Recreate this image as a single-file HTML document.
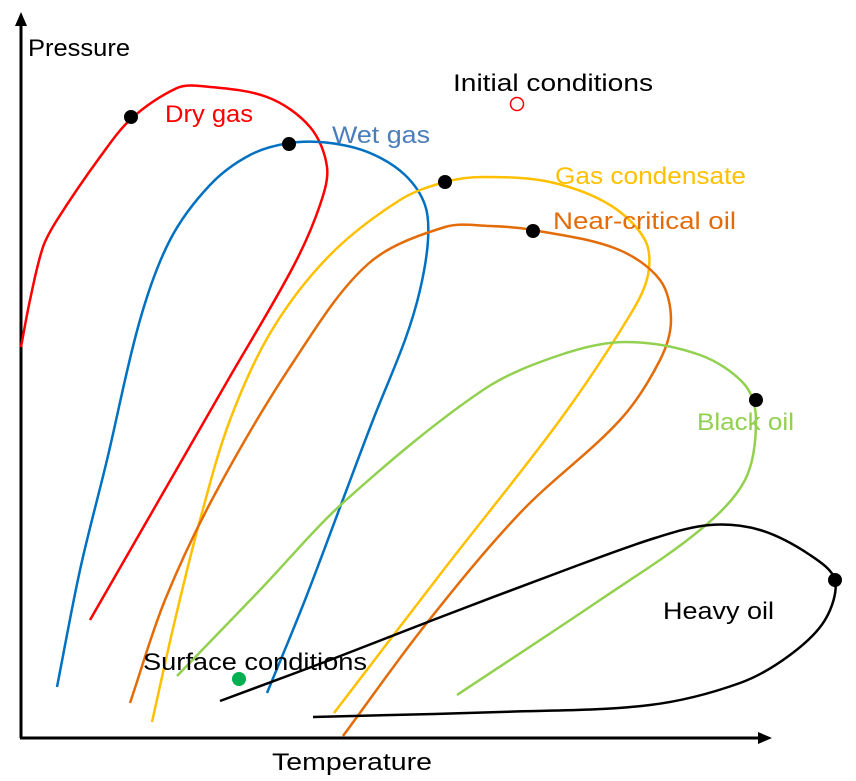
<!DOCTYPE html>
<html><head><meta charset="utf-8"><style>
html,body{margin:0;padding:0;background:#fff;}
svg{display:block;font-family:"Liberation Sans",sans-serif;}
</style></head><body>
<svg id="chart" width="856" height="781" viewBox="0 0 856 781">
  <g id="axes">
    <line x1="21" y1="738" x2="21" y2="22" stroke="#000" stroke-width="3"/>
    <polygon points="21,12 15,26 27,26" fill="#000"/>
    <line x1="20" y1="738" x2="762" y2="738" stroke="#000" stroke-width="3"/>
    <polygon points="772,738 758,732 758,744" fill="#000"/>
    <text x="28" y="56" font-size="24" textLength="102" lengthAdjust="spacingAndGlyphs">Pressure</text>
    <text x="272" y="770" font-size="24" textLength="160" lengthAdjust="spacingAndGlyphs">Temperature</text>
  </g>
  <g id="curves"></g>
  <g id="labels">
    <text x="453" y="91" font-size="24" textLength="200" lengthAdjust="spacingAndGlyphs" fill="#000">Initial conditions</text>
    <circle cx="517" cy="104" r="6.5" fill="none" stroke="#ff0000" stroke-width="1.5"/>
    <text x="165" y="122" font-size="24" textLength="88" lengthAdjust="spacingAndGlyphs" fill="#ff0000">Dry gas</text>
    <text x="332" y="143" font-size="24" textLength="98" lengthAdjust="spacingAndGlyphs" fill="#4a7ebb">Wet gas</text>
    <text x="555" y="184" font-size="24" textLength="191" lengthAdjust="spacingAndGlyphs" fill="#ffc000">Gas condensate</text>
    <text x="553" y="229" font-size="24" textLength="183" lengthAdjust="spacingAndGlyphs" fill="#e36c09">Near-critical oil</text>
    <text x="697" y="430" font-size="24" textLength="97" lengthAdjust="spacingAndGlyphs" fill="#92d050">Black oil</text>
    <text x="663" y="619" font-size="24" textLength="111" lengthAdjust="spacingAndGlyphs" fill="#000">Heavy oil</text>
    <text x="143" y="670" font-size="24" textLength="224" lengthAdjust="spacingAndGlyphs" fill="#000">Surface conditions</text>
    <circle cx="239" cy="679" r="7" fill="#00b050"/>
  </g>
</svg>
<script>
// Envelope shapes (temperature, pressure) in plot units
const dryGas = [[0,391],[9,438],[22,491],[36,518],[79,581],[111,620],[156,650],[179,652],[246,641],[289,611],[306,571],[299,533],[272,471],[207,358],[161,278],[69,118]];
const wetGas = [[36,51],[59,168],[86,278],[119,418],[149,498],[189,553],[229,583],[269,595],[309,595],[349,585],[384,563],[404,533],[407,498],[399,448],[384,398],[352,318],[324,244],[284,138],[246,45]];
const gasCondensate = [[131,16],[154,118],[179,218],[209,318],[251,408],[309,483],[379,538],[424,556],[462,561],[529,556],[589,533],[624,498],[627,463],[609,423],[539,318],[424,170],[313,25]];
const nearCriticalOil = [[109,35],[144,138],[194,244],[271,374],[347,474],[424,511],[469,512],[512,508],[596,489],[639,458],[650,418],[639,378],[599,318],[500,226],[405,114],[322,2]];
const blackOil = [[156,62],[239,148],[324,237],[462,348],[539,383],[604,396],[679,383],[724,353],[735,318],[724,258],[679,208],[579,138],[436,43]];
const heavyOil = [[199,37],[309,78],[412,118],[539,166],[634,200],[689,213],[739,208],[789,183],[814,158],[804,118],[769,83],[719,55],[629,33],[479,26],[292,21]];
const criticalPoints = [[110,621],[268,594],[424,556],[512,507],[735,338],[814,158]];
const seriesColors = ["#ff0000","#0070c0","#ffc000","#e36c09","#92d050","#000000"];
const seriesNames = ["dry-gas","wet-gas","gas-condensate","near-critical-oil","black-oil","heavy-oil"];

const X0 = 21, Y0 = 738;
function xScale(t){ return X0 + t; }
function yScale(p){ return Y0 - p; }

function dist(a,b){ return Math.hypot(a[0]-b[0], a[1]-b[1]) || 1; }
function tangent(P, i){
  const a = P[Math.max(0,i-1)], b = P[Math.min(P.length-1,i+1)];
  const d = dist(P[Math.max(0,i-1)], P[i]) + dist(P[i], P[Math.min(P.length-1,i+1)]);
  return [(b[0]-a[0])/d, (b[1]-a[1])/d];
}
function smoothPath(pts){
  const P = pts.map(d => [xScale(d[0]), yScale(d[1])]);
  let d = "M" + P[0][0] + "," + P[0][1];
  for (let i = 0; i < P.length - 1; i++){
    const p1 = P[i], p2 = P[i+1], L = dist(p1,p2);
    const t1 = tangent(P, i), t2 = tangent(P, i+1);
    const c1 = [p1[0] + t1[0]*L/3, p1[1] + t1[1]*L/3];
    const c2 = [p2[0] - t2[0]*L/3, p2[1] - t2[1]*L/3];
    d += " C" + c1[0].toFixed(1) + "," + c1[1].toFixed(1) + " " + c2[0].toFixed(1) + "," + c2[1].toFixed(1) + " " + p2[0].toFixed(1) + "," + p2[1].toFixed(1);
  }
  return d;
}

const NS = "http://www.w3.org/2000/svg";
const g = document.getElementById("curves");
[dryGas, wetGas, gasCondensate, nearCriticalOil, blackOil, heavyOil].forEach((s, i) => {
  const path = document.createElementNS(NS, "path");
  path.setAttribute("d", smoothPath(s));
  path.setAttribute("fill", "none");
  path.setAttribute("stroke", seriesColors[i]);
  path.setAttribute("stroke-width", "2.5");
  
  
  g.appendChild(path);
});
criticalPoints.forEach((c, i) => {
  const dot = document.createElementNS(NS, "circle");
  dot.setAttribute("cx", xScale(c[0]));
  dot.setAttribute("cy", yScale(c[1]));
  dot.setAttribute("r", "7");
  dot.setAttribute("fill", "#000");
  
  
  g.appendChild(dot);
});
</script>
</body></html>
